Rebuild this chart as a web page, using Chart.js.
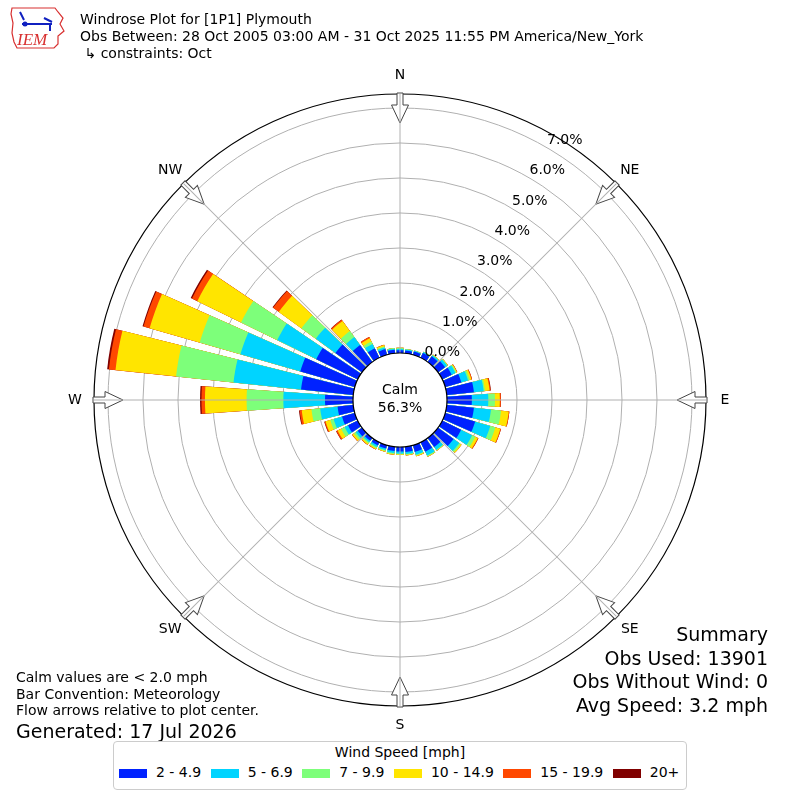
<!DOCTYPE html>
<html lang="en">
<head>
<meta charset="UTF-8">
<title>Windrose Plot for [1P1] Plymouth</title>
<style>
    body {
        margin: 0;
        background: #ffffff;
        font-family: "DejaVu Sans", sans-serif;
        color: #000;
    }
    .page {
        position: relative;
        width: 800px;
        height: 800px;
        overflow: hidden;
    }
    #rose {
        position: absolute;
        left: 0;
        top: 0;
    }
    .logo {
        position: absolute;
        left: 8px;
        top: 3px;
    }
    .header {
        position: absolute;
        left: 80px;
        top: 11px;
        font-size: 14px;
        line-height: 17px;
        white-space: nowrap;
    }
    .notes {
        position: absolute;
        left: 16px;
        top: 669px;
        font-size: 14px;
        line-height: 16.5px;
        white-space: nowrap;
    }
    .generated {
        font-size: 19px;
        line-height: 22px;
        margin-top: 1px;
    }
    .summary {
        position: absolute;
        right: 32px;
        top: 623px;
        text-align: right;
        font-size: 19px;
        line-height: 23.5px;
        white-space: nowrap;
    }
    .legend {
        position: absolute;
        left: 113px;
        top: 741px;
        width: 572px;
        height: 47px;
        border: 1px solid #cccccc;
        border-radius: 4px;
        background: #fff;
    }
    .legend-title {
        text-align: center;
        font-size: 14px;
        margin-top: 2px;
    }
    .legend-row {
        display: flex;
        align-items: center;
        gap: 9.5px;
        padding-left: 5px;
        margin-top: 4px;
        font-size: 14px;
        white-space: nowrap;
    }
    .swatch {
        display: inline-block;
        width: 28px;
        height: 9px;
        margin-right: 9px;
        vertical-align: middle;
    }
</style>
</head>
<body>
<div class="page">
    <canvas id="rose" width="800" height="800"></canvas>

    <svg class="logo" width="60" height="48" viewBox="0 0 60 48">
        <path d="M4 5 L47 5 L50 9 L55 15 L52 21 L56 28 L50 33 L50 41 L46 45 L9 45 L6 39 L4 30 L5 20 L3 11 Z"
              fill="none" stroke="#d83030" stroke-width="1.2"/>
        <line x1="14" y1="21" x2="44" y2="21" stroke="#1020c0" stroke-width="2"/>
        <circle cx="17" cy="21" r="2.5" fill="#1020c0"/>
        <path d="M12 9 L16 17 M36 15 L44 19 M42 21 L42 28" stroke="#1020c0" stroke-width="2" fill="none"/>
        <text x="9" y="42" font-family="Liberation Serif, serif" font-style="italic" font-size="17" fill="#d83030">IEM</text>
    </svg>

    <div class="header">
        Windrose Plot for [1P1] Plymouth<br>
        Obs Between: 28 Oct 2005 03:00 AM - 31 Oct 2025 11:55 PM America/New_York<br>
        &nbsp;↳ constraints: Oct
    </div>

    <div class="notes">
        Calm values are &lt; 2.0 mph<br>
        Bar Convention: Meteorology<br>
        Flow arrows relative to plot center.
        <div class="generated">Generated: 17 Jul 2026</div>
    </div>

    <div class="summary">
        Summary<br>
        Obs Used: 13901<br>
        Obs Without Wind: 0<br>
        Avg Speed: 3.2 mph
    </div>

    <div class="legend">
        <div class="legend-title">Wind Speed [mph]</div>
        <div class="legend-row" id="legendRow"></div>
    </div>
</div>

<script src="https://cdn.jsdelivr.net/npm/chart.js"></script>
<script>
    // wind direction bins (degrees, direction wind blows from)
    var directions = [0, 10, 20, 30, 40, 50, 60, 70, 80, 90, 100, 110,
                      120, 130, 140, 150, 160, 170, 180, 190, 200, 210, 220, 230,
                      240, 250, 260, 270, 280, 290, 300, 310, 320, 330, 340, 350];

    var speedBins = ['2 - 4.9', '5 - 6.9', '7 - 9.9', '10 - 14.9', '15 - 19.9', '20+'];
    var binColors = ['#0022ff', '#00d4ff', '#7dff7a', '#ffe500', '#ff4800', '#800000'];

    var speed2to5 = [0.08, 0.08, 0.10, 0.15, 0.20, 0.25, 0.30, 0.48, 0.78, 0.71, 0.78, 0.89,
                     0.60, 0.55, 0.32, 0.30, 0.20, 0.15, 0.13, 0.12, 0.10, 0.10, 0.10, 0.15,
                     0.31, 0.38, 0.45, 0.80, 1.50, 1.62, 1.32, 0.94, 0.60, 0.30, 0.17, 0.10];
    var speed5to7 = [0.04, 0.03, 0.02, 0.03, 0.04, 0.07, 0.12, 0.20, 0.28, 0.47, 0.49, 0.45,
                     0.35, 0.20, 0.10, 0.12, 0.08, 0.06, 0.06, 0.06, 0.05, 0.05, 0.05, 0.07,
                     0.11, 0.25, 0.50, 1.19, 1.94, 1.78, 1.24, 0.69, 0.28, 0.14, 0.05, 0.03];
    var speed7to10 = [0.02, 0.01, 0.01, 0.01, 0.01, 0.02, 0.03, 0.05, 0.04, 0.19, 0.29, 0.15,
                      0.10, 0.05, 0.02, 0.03, 0.03, 0.02, 0.02, 0.03, 0.03, 0.04, 0.04, 0.06,
                      0.11, 0.10, 0.25, 1.05, 1.65, 1.21, 1.15, 0.51, 0.21, 0.08, 0.03, 0.02];
    var speed10to15 = [0.01, 0.00, 0.00, 0.00, 0.01, 0.01, 0.02, 0.05, 0.13, 0.14, 0.22, 0.15,
                       0.08, 0.03, 0.01, 0.01, 0.02, 0.02, 0.02, 0.02, 0.02, 0.03, 0.04, 0.06,
                       0.11, 0.14, 0.28, 1.19, 1.74, 1.49, 1.39, 0.80, 0.36, 0.10, 0.04, 0.00];
    var speed15to20 = [0.00, 0.00, 0.00, 0.00, 0.00, 0.00, 0.01, 0.02, 0.03, 0.03, 0.02, 0.02,
                       0.02, 0.00, 0.00, 0.00, 0.00, 0.00, 0.00, 0.00, 0.00, 0.01, 0.01, 0.01,
                       0.04, 0.03, 0.06, 0.10, 0.19, 0.18, 0.17, 0.20, 0.04, 0.04, 0.01, 0.00];
    var speed20plus = [0.00, 0.00, 0.00, 0.00, 0.00, 0.00, 0.00, 0.00, 0.01, 0.00, 0.00, 0.00,
                       0.00, 0.00, 0.00, 0.00, 0.00, 0.00, 0.00, 0.00, 0.00, 0.00, 0.00, 0.00,
                       0.01, 0.01, 0.02, 0.04, 0.05, 0.03, 0.04, 0.02, 0.01, 0.00, 0.00, 0.00];

    var ringTicks = [0, 1, 2, 3, 4, 5, 6, 7];
    var compassLabels = ['N', 'NE', 'E', 'SE', 'S', 'SW', 'W', 'NW'];
    var calmLabel = 'Calm';
    var calmPercent = '56.3%';

    var series = [speed2to5, speed5to7, speed7to10, speed10to15, speed15to20, speed20plus];

    // radial axis: the calm circle sits below 0%
    var rMin = -1.343;
    var rMax = 7.4;
    var barAngle = 8;
    var gapAngle = 2;

    // every bar is followed by an empty gap slice so the bars don't touch
    var labels = [];
    directions.forEach(function (d) {
        labels.push(d + '°');
        labels.push('');
    });

    // stacked bars: each dataset holds the running total, drawn under the previous one
    var datasets = series.map(function (s, i) {
        var data = [];
        directions.forEach(function (d, j) {
            var total = 0;
            for (var k = 0; k <= i; k++) {
                total += series[k][j];
            }
            data.push(total);
            data.push(rMin);
        });
        return {
            label: speedBins[i],
            data: data,
            backgroundColor: binColors[i],
            borderWidth: 0,
            angle: function (ctx) {
                return ctx.dataIndex % 2 ? gapAngle : barAngle;
            }
        };
    });

    var roseDecor = {
        id: 'roseDecor',
        afterDraw: function (chart) {
            var s = chart.scales.r;
            var ctx = chart.ctx;
            var cx = s.xCenter;
            var cy = s.yCenter;
            var r0 = s.getDistanceFromCenterForValue(0);
            var rOut = s.getDistanceFromCenterForValue(rMax);

            ctx.save();
            ctx.font = '14px "DejaVu Sans"';
            ctx.fillStyle = '#000';
            ctx.textAlign = 'center';
            ctx.textBaseline = 'middle';

            compassLabels.forEach(function (lab, k) {
                var a = k * Math.PI / 4;
                ctx.save();
                ctx.translate(cx, cy);
                ctx.rotate(a);
                // flow arrow
                ctx.beginPath();
                ctx.moveTo(-3, -rOut - 1);
                ctx.lineTo(3, -rOut - 1);
                ctx.lineTo(3, -rOut + 11);
                ctx.lineTo(8.5, -rOut + 11);
                ctx.lineTo(0, -rOut + 29);
                ctx.lineTo(-8.5, -rOut + 11);
                ctx.lineTo(-3, -rOut + 11);
                ctx.closePath();
                ctx.fillStyle = '#ffffff';
                ctx.fill();
                ctx.strokeStyle = '#444444';
                ctx.lineWidth = 1;
                ctx.stroke();
                // spoke
                ctx.beginPath();
                ctx.moveTo(0, -r0);
                ctx.lineTo(0, -rOut);
                ctx.strokeStyle = '#b0b0b0';
                ctx.stroke();
                ctx.restore();

                var lr = rOut + 19;
                ctx.fillStyle = '#000';
                ctx.fillText(lab, cx + lr * Math.sin(a), cy - lr * Math.cos(a));
            });

            // calm circle
            ctx.beginPath();
            ctx.arc(cx, cy, r0, 0, Math.PI * 2);
            ctx.fillStyle = '#ffffff';
            ctx.fill();
            ctx.strokeStyle = '#000';
            ctx.lineWidth = 1.2;
            ctx.stroke();

            ctx.fillStyle = '#000';
            ctx.font = '14px "DejaVu Sans"';
            ctx.fillText(calmLabel, cx, cy - 10);
            ctx.fillText(calmPercent, cx, cy + 8);

            // ring labels along the 30 degree line
            ctx.textAlign = 'left';
            ctx.textBaseline = 'alphabetic';
            var la = 30 * Math.PI / 180;
            ringTicks.forEach(function (v) {
                var r = s.getDistanceFromCenterForValue(v);
                ctx.fillText(v.toFixed(1) + '%', cx + r * Math.sin(la) + 1, cy - r * Math.cos(la) - 3);
            });
            ctx.restore();
        }
    };

    new Chart(document.getElementById('rose').getContext('2d'), {
        type: 'polarArea',
        data: {
            labels: labels,
            datasets: datasets
        },
        options: {
            responsive: false,
            animation: false,
            layout: {
                padding: { left: 94, right: 94, top: 94, bottom: 94 }
            },
            plugins: {
                legend: { display: false },
                tooltip: { enabled: false }
            },
            scales: {
                r: {
                    min: rMin,
                    max: rMax,
                    startAngle: -barAngle / 2,
                    z: 1,
                    ticks: { display: false, stepSize: 1 },
                    angleLines: { display: false },
                    pointLabels: { display: false },
                    grid: {
                        circular: true,
                        color: function (c) {
                            if (c.tick.value > rMax - 0.01) return '#000000';
                            if (c.tick.value < -0.01) return 'rgba(0,0,0,0)';
                            return '#b0b0b0';
                        },
                        lineWidth: function (c) {
                            return c.tick.value > rMax - 0.01 ? 1.2 : 1;
                        }
                    }
                }
            }
        },
        plugins: [roseDecor]
    });

    // legend built from the same bins and colours
    var row = document.getElementById('legendRow');
    speedBins.forEach(function (b, i) {
        var item = document.createElement('span');
        var sw = document.createElement('span');
        sw.className = 'swatch';
        sw.style.background = binColors[i];
        item.appendChild(sw);
        item.appendChild(document.createTextNode(b));
        row.appendChild(item);
    });
</script>
</body>
</html>
